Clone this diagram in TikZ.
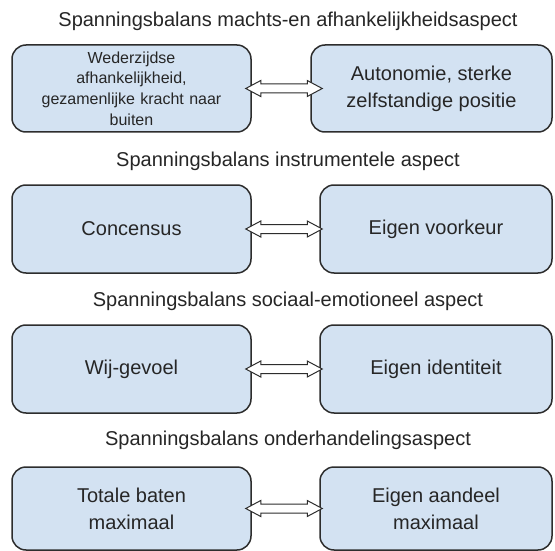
\documentclass[tikz,border=0pt]{standalone}
\usepackage{fontspec}
\setmainfont{Liberation Sans}
\usetikzlibrary{calc}

\definecolor{boxblue}{RGB}{211,226,242}
\definecolor{textgray}{RGB}{38,38,38}
\definecolor{linegray}{RGB}{45,45,45}

\tikzset{
	aspect/.style={font=\fontsize{20}{24}\selectfont, text=textgray},
	pole/.style={draw=linegray, line width=1.5pt, fill=boxblue, rounded corners=14pt, align=center, inner sep=0pt, text=textgray, font=\fontsize{20}{27}\selectfont},
	hollow/.style={draw=linegray, line width=1pt, fill=white, line join=miter},
}

% hollow double arrow between two boxes (#3 = overlap into right box)
\newcommand{\spanpijl}[3]{%
	\draw[hollow] let \p1=($(#1.east)+(-6,0)$), \p2=($(#2.west)+(#3,0)$) in
		(\x1,\y1) -- (\x1+15pt,\y1+8pt) -- (\x1+15pt,\y1+4.5pt) -- (\x2-15pt,\y1+4.5pt) -- (\x2-15pt,\y1+8pt) -- (\x2,\y1)
		-- (\x2-15pt,\y1-8pt) -- (\x2-15pt,\y1-4.5pt) -- (\x1+15pt,\y1-4.5pt) -- (\x1+15pt,\y1-8pt) -- cycle;
}

\begin{document}
\begin{tikzpicture}[x=1pt,y=-1pt]
	\useasboundingbox (0,0) rectangle (555,551);
	\fill[white] (0,0) rectangle (555,551);

	\node[aspect] (titel1) at (288,21) {Spanningsbalans machts-en afhankelijkheidsaspect};
	\node[pole, minimum width=239pt, minimum height=87pt, text width=230pt, font=\fontsize{16}{20.7}\selectfont] (links1) at (131.5,88.5) {Wederzijdse\\ afhankelijkheid,\\ gezamenlijke kracht naar\\ buiten};
	\node[pole, minimum width=241pt, minimum height=87pt] (rechts1) at (431.5,88.5) {Autonomie, sterke\\ zelfstandige positie};
	\spanpijl{links1}{rechts1}{12}

	\node[aspect] (titel2) at (288,161) {Spanningsbalans instrumentele aspect};
	\node[pole, minimum width=239pt, minimum height=88pt] (links2) at (131.5,229) {Concensus};
	\node[pole, minimum width=232pt, minimum height=88pt] (rechts2) at (436,229) {Eigen voorkeur};
	\spanpijl{links2}{rechts2}{3}

	\node[aspect] (titel3) at (288,301) {Spanningsbalans sociaal-emotioneel aspect};
	\node[pole, minimum width=239pt, minimum height=88pt] (links3) at (131.5,369) {Wij-gevoel};
	\node[pole, minimum width=232pt, minimum height=88pt] (rechts3) at (436,369) {Eigen identiteit};
	\spanpijl{links3}{rechts3}{3}

	\node[aspect] (titel4) at (288,440) {Spanningsbalans onderhandelingsaspect};
	\node[pole, minimum width=239pt, minimum height=83pt] (links4) at (131.5,508.5) {Totale baten\\ maximaal};
	\node[pole, minimum width=232pt, minimum height=83pt] (rechts4) at (436,508.5) {Eigen aandeel\\ maximaal};
	\spanpijl{links4}{rechts4}{3}
\end{tikzpicture}
\end{document}
